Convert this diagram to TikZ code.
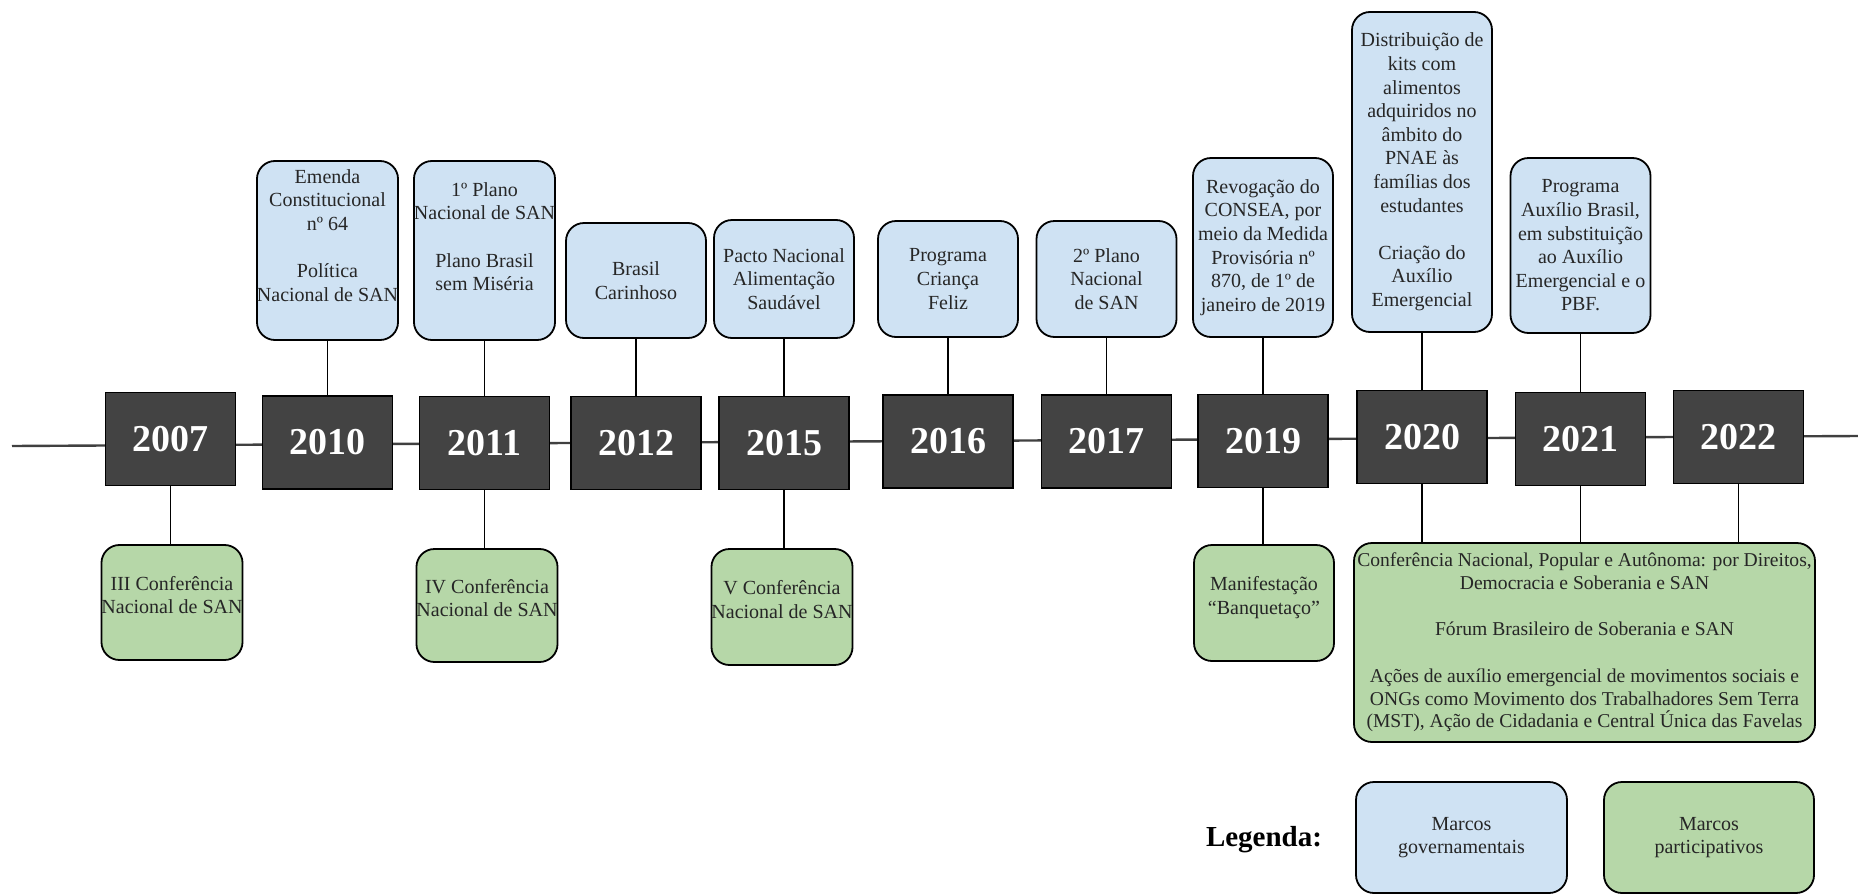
\documentclass[tikz,border=0pt]{standalone}
\usepackage{fontspec}
\setmainfont{Liberation Serif}
\definecolor{govblue}{HTML}{CFE2F3}
\definecolor{partgreen}{HTML}{B6D7A8}
\definecolor{yeargray}{HTML}{434343}
\newcommand{\boxfont}{\fontsize{10}{11.8}\selectfont}
\newcommand{\bigboxfont}{\fontsize{9.8}{11.4}\selectfont}
\newcommand{\gapline}{\\[11.8pt]}
\newcommand{\tailskip}[1]{\\[#1]\mbox{}}
\begin{document}
\begin{tikzpicture}[x=0.5pt,y=-0.5pt,
  yearbox/.style={draw=black, fill=yeargray, text=white, line width=0.8pt,
    font=\fontsize{19}{19}\selectfont\bfseries, minimum width=65pt,
    minimum height=46.5pt, inner sep=0pt},
  govbox/.style={draw=black, fill=govblue, line width=0.9pt, rounded corners=9pt,
    minimum width=70pt, align=center, font=\boxfont, text=black!85,
    inner xsep=0pt, inner ysep=2pt},
  partbox/.style={govbox, fill=partgreen},
  conn/.style={line width=0.8pt, black},
  timeline/.style={line width=1.2pt, black!75}]
\useasboundingbox (0,0) rectangle (1858,894);
\coordinate (tlL) at (12,446);
\coordinate (tlR) at (1858,436);
\draw[timeline] (tlL) -- (tlR);

% years
\node[yearbox] (y2007) at (170.5,439) {2007};
\node[yearbox] (y2010) at (327.5,442.5) {2010};
\node[yearbox] (y2011) at (484.5,443) {2011};
\node[yearbox] (y2012) at (636,443) {2012};
\node[yearbox] (y2015) at (784,443) {2015};
\node[yearbox] (y2016) at (948,441.5) {2016};
\node[yearbox] (y2017) at (1106.5,441.5) {2017};
\node[yearbox] (y2019) at (1263,441) {2019};
\node[yearbox] (y2020) at (1422,437) {2020};
\node[yearbox] (y2021) at (1580.5,439) {2021};
\node[yearbox] (y2022) at (1738.5,437) {2022};

% governmental milestones
\node[govbox, minimum height=89.5pt] (g2010) at (327.5,250.5)
  {Emenda\\Constitucional\\nº 64\gapline Política\\Nacional de SAN\tailskip{3.6pt}};
\node[govbox, minimum height=89.5pt] (g2011) at (484.5,250.5)
  {1º Plano\\Nacional de SAN\gapline Plano Brasil\\sem Miséria\tailskip{2.2pt}};
\node[govbox, minimum height=57.5pt] (g2012) at (636,280.5) {Brasil\\Carinhoso};
\node[govbox, minimum height=59pt] (g2015) at (784,279) {Pacto Nacional\\Alimentação\\Saudável};
\node[govbox, minimum height=58pt] (g2016) at (948,279) {Programa\\Criança\\Feliz};
\node[govbox, minimum height=58pt] (g2017) at (1106.5,279) {2º Plano\\Nacional\\de SAN};
\node[govbox, minimum height=89.5pt] (g2019) at (1263,247.5)
  {Revogação do\\CONSEA, por\\meio da Medida\\Provisória nº\\870, de 1º de\\janeiro de 2019};
\node[govbox, minimum height=160pt] (g2020) at (1422,172)
  {Distribuição de\\kits com\\alimentos\\adquiridos no\\âmbito do\\PNAE às\\famílias dos\\estudantes\gapline Criação do\\Auxílio\\Emergencial};
\node[govbox, minimum height=87.5pt] (g2021) at (1580.5,245.5)
  {Programa\\Auxílio Brasil,\\em substituição\\ao Auxílio\\Emergencial e o\\PBF.};

% participatory milestones
\node[partbox, minimum height=57.5pt] (p2007) at (172,602.5)
  {III Conferência\\Nacional de SAN\tailskip{-4.1pt}};
\node[partbox, minimum height=56.5pt] (p2011) at (487,605.5)
  {IV Conferência\\Nacional de SAN\tailskip{-4.1pt}};
\node[partbox, minimum height=58pt] (p2015) at (782,607)
  {V Conferência\\Nacional de SAN\tailskip{-4.1pt}};
\node[partbox, minimum height=58pt] (p2019) at (1264,603)
  {Manifestação\\“Banquetaço”\tailskip{-4.1pt}};
\node[partbox, font=\bigboxfont, minimum width=230.5pt, minimum height=99.5pt] (p2020) at (1584.5,642.5)
  {Conferência Nacional, Popular e Autônoma: por Direitos,\\Democracia e Soberania e SAN\gapline Fórum Brasileiro de Soberania e SAN\gapline Ações de auxílio emergencial de movimentos sociais e\\ONGs como Movimento dos Trabalhadores Sem Terra\\(MST), Ação de Cidadania e Central Única das Favelas};

% connectors
\foreach \y in {2010,2011,2012,2015,2016,2017,2019,2020,2021}
  \draw[conn] (g\y.south) -- (y\y.north);
\foreach \y in {2007,2011,2015,2019}
  \draw[conn] (y\y.south) -- (y\y.south |- p\y.north);
\foreach \y in {2020,2021,2022}
  \draw[conn] (y\y.south) -- (y\y.south |- p2020.north);

% legend
\node[font=\fontsize{14.5}{16}\selectfont\bfseries] (legtitle) at (1264,840) {Legenda:};
\node[govbox, minimum width=105.5pt, minimum height=55.5pt] (leggov) at (1461.5,837.5)
  {Marcos\\governamentais};
\node[partbox, minimum width=105pt, minimum height=55.5pt] (legpart) at (1709,837.5)
  {Marcos\\participativos};
\end{tikzpicture}
\end{document}
